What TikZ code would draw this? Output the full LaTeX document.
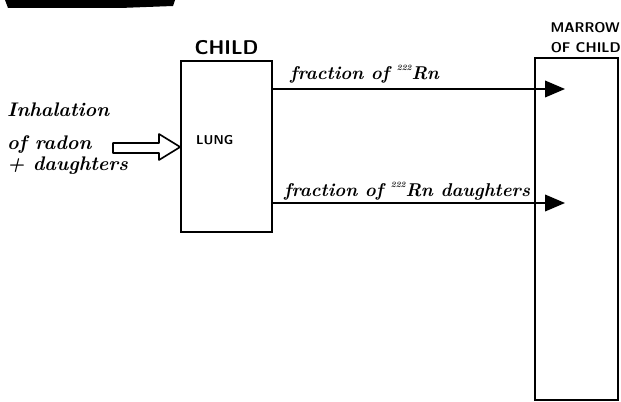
\documentclass[tikz,border=0pt]{standalone}
\usepackage{fontspec}
\usepackage{tikz}
\usetikzlibrary{arrows.meta,positioning}
\tikzset{
  hand/.style={font=\fontsize{15.8}{18}\selectfont\bfseries\itshape,inner sep=0pt},
  caps/.style={font=\fontsize{12}{14}\selectfont\sffamily\bfseries,inner sep=0pt},
  organ/.style={draw,line width=1.4pt,inner sep=0pt},
  flow/.style={line width=1.4pt,-{Triangle[length=0.6cm,width=0.5cm]}}
}
\begin{document}
\begin{tikzpicture}[x=0.03cm,y=-0.03cm]
\useasboundingbox(0,0)rectangle(621,402);
%cut-off heading
\fill(5,0)--(175,0)--(173,6)--(120,8)--(8,8)--cycle;
%child
\node[organ,minimum width=2.73cm,minimum height=5.13cm](child)at(226.5,146.5){};
\node[caps,font=\fontsize{17}{19}\selectfont\sffamily\bfseries,above=0.15cm of child.north](childlbl){CHILD};
\node[caps,font=\fontsize{11}{13}\selectfont\sffamily\bfseries,anchor=west](lung)at(196,140){LUNG};
%marrow
\node[organ,minimum width=2.49cm,minimum height=10.26cm](marrow)at(576.5,229){};
\node[caps,anchor=east](oflbl)at(621,48){OF CHILD};
\node[caps,anchor=east](marrowlbl)at(620,28){MARROW};
%inhalation
\node[hand,font=\fontsize{16.8}{19}\selectfont\bfseries\itshape,anchor=base west](inh1)at(7,117){Inhalation};
\node[hand,font=\fontsize{16.8}{19}\selectfont\bfseries\itshape,anchor=base west](inh2)at(7,150){of radon};
\node[hand,font=\fontsize{16.8}{19}\selectfont\bfseries\itshape,anchor=base west](inh3)at(7,171){+ daughters};
\coordinate(tip)at(child.west|-0,147);
\draw[line width=1.4pt,line join=round](113,143)--(159,143)--(159,134)--(tip)--(159,160)--(159,153)--(113,153)--cycle;
%flows
\coordinate(t1)at(565,89);
\coordinate(t2)at(565,203);
\draw[flow](child.east|-t1)--(t1);
\draw[flow](child.east|-t2)--(t2);
\node[hand,anchor=base west](f1)at(290,80){fraction of \raisebox{1.2ex}{\scriptsize 222}Rn};
\node[hand,anchor=base west](f2)at(284,197){fraction of \raisebox{1.2ex}{\scriptsize 222}Rn daughters};
\end{tikzpicture}
\end{document}
